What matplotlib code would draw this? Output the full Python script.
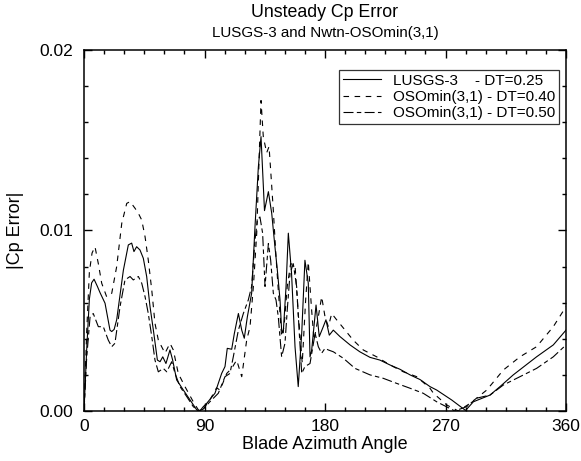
import matplotlib
matplotlib.use("Agg")
import matplotlib.pyplot as plt
import matplotlib.transforms as mtransforms
from matplotlib.ticker import MultipleLocator

plt.rcParams['font.family'] = ['Liberation Sans', 'DejaVu Sans']

# LUSGS-3, DT=0.25 (solid), error in units of 1e-3
ang_lu = [0, 2, 4, 5.7, 7.5, 10, 12, 15.7, 19.4, 20.7, 22.5, 24.4, 29.4, 33.1, 35.6, 37.3,
          39.3, 41.8, 44.3, 46.8, 49.3, 51.8, 54.8, 56.8, 58.8, 61.2, 64.2, 66.2, 69.2,
          74.2, 79.2, 84.2, 86.5, 89.1, 91.6, 97.8, 102.8, 105.3, 107, 110.3, 112.3,
          115.3, 117.8, 119.7, 122, 125.2, 127.7, 130.2, 132.2, 134.8, 137.7, 140.2,
          142.6, 144.4, 146.4, 147.6, 148.8, 150.9, 152.6, 155, 157.6, 160, 162.6, 165,
          167.5, 168.8, 170, 173.3, 175.7, 178.7, 180.7, 183.2, 186.2, 191.2, 198.7, 206,
          213.6, 221, 228.5, 236, 243.5, 251, 258.4, 263.4, 274.6, 285, 290.8, 303.2,
          310.7, 320.6, 338, 350.5, 360]
err_lu = [0, 3.4, 6.2, 7.1, 7.3, 6.9, 6.55, 5.97, 4.48, 4.4, 4.52, 5.05, 7.8, 9.2, 9.3,
          8.83, 9.1, 8.92, 8.46, 7.45, 5.78, 4.48, 2.82, 2.73, 3.0, 2.63, 3.38, 2.82, 1.72,
          1.16, 0.61, 0.06, 0.0, 0.24, 0.42, 0.98, 2.08, 2.46, 3.47, 3.42, 4.3, 5.4, 4.48,
          4.03, 5.22, 6.52, 10.2, 13.5, 15.2, 11.1, 12.15, 10.95, 9.1, 7.8, 6.15,
          4.48, 4.33, 6.9, 9.85, 7.63, 3.56, 1.35, 4.3, 8.35, 7.08, 3.0, 3.34, 5.87, 4.12,
          4.67, 5.05, 4.2, 4.48, 4.12, 3.66, 3.28, 2.97, 2.82, 2.55, 2.31, 2.0, 1.74,
          1.35, 1.16, 0.61, 0.03, 0.51, 0.88, 1.35, 2.0, 3.0, 3.66, 4.48]

# OSOmin(3,1), DT=0.40 (dashed)
ang_o40 = [0, 2, 4, 6, 8.2, 10.7, 13.2, 16.9, 20.7, 24.4, 28.2, 31.9, 34.4, 38.1, 40.6,
           43.1, 45.6, 48, 50.6, 53, 55.5, 58, 60.5, 64.2, 66.7, 70.4, 75.4, 81.6, 85.4,
           88, 94, 99, 101.6, 106.6, 110.3, 114, 117.8, 121.5, 124, 126.5, 129, 131, 132.2,
           133.9, 136.4, 138.2, 139.4, 141.4, 143.4, 145.1, 147.6, 149.4, 151.8, 154.3,
           157.6, 160, 163, 165.5, 167.5, 170, 171.8, 175, 177.5, 180, 182.5, 185, 188.7,
           195, 201, 208.6, 218.6, 228.5, 238.5, 248.5, 258.4, 261, 271, 279.5, 288.3,
           300.8, 313.2, 325.6, 338, 350.5, 360]
err_o40 = [0, 4.4, 7.7, 8.75, 9.1, 8.16, 7.08, 6.33, 6.52, 8.0, 10.4, 11.5, 11.6, 11.23,
           10.95, 10.58, 9.65, 8.36, 6.7, 4.86, 3.93, 3.56, 3.2, 3.75, 3.38, 2.08, 1.35,
           0.51, 0.06, 0.0, 0.61, 1.28, 1.16, 2.08, 2.36, 2.82, 1.9, 3.93, 4.67, 6.9, 9.85,
           14.5, 17.2, 15.2, 14.3, 14.65, 13.35, 11.1, 8.55, 6.7, 4.12, 4.67, 6.9, 8.16,
           8.08, 5.4, 2.65, 6.1, 8.26, 5.6, 3.93, 5.22, 6.33, 5.22, 4.67, 5.4, 5.05, 4.48,
           3.93, 3.38, 3.0, 2.55, 2.17, 1.9, 1.26, 0.98, 0.33, 0.0, 0.42, 1.16, 2.27, 3.0,
           3.56, 4.67, 5.78]

# OSOmin(3,1), DT=0.50 (dash-dot)
ang_o50 = [0, 2, 4.5, 6.9, 10.7, 14.4, 18.1, 20.7, 23.1, 26.9, 30.6, 34.4, 36.8, 40.6,
           43.1, 45.6, 48, 50.6, 53, 55.5, 59.2, 61.8, 65.5, 68, 71.7, 76.7, 81.6, 85.5,
           89, 94, 100.3, 105.3, 109, 111.5, 115.3, 119, 122.7, 125.2, 127.7, 129.5, 131.4,
           133.4, 135.2, 137.7, 139.4, 141.4, 143.4, 145.1, 147.6, 150.1, 151.8, 153.9,
           156.3, 158.8, 160.8, 162.6, 165, 168.8, 172.6, 175, 177.5, 180, 182.5, 186.2,
           193.7, 202.4, 213.6, 223.5, 233.5, 243.5, 253.4, 263.4, 277, 285.8, 293.3,
           303.2, 313.2, 325.6, 338, 350.5, 360]
err_o50 = [0, 2.95, 5.2, 5.4, 4.67, 4.67, 3.93, 3.56, 3.75, 5.78, 7.26, 7.45, 7.26, 7.45,
           7.08, 6.33, 5.4, 4.12, 2.82, 2.17, 2.36, 2.17, 2.73, 2.08, 1.35, 0.8, 0.24, 0.0,
           0.1, 0.51, 0.98, 1.9, 2.08, 3.0, 4.48, 5.4, 6.15, 6.9, 9.47, 10.58, 10.75, 9.85,
           6.9, 9.28, 8.36, 6.52, 6.15, 5.22, 3.0, 3.75, 5.6, 7.63, 8.16, 6.9, 4.3, 2.08,
           2.46, 2.63, 4.3, 3.56, 3.2, 3.47, 3.38, 3.28, 2.92, 2.36, 2.0, 1.81, 1.53, 1.26,
           0.98, 0.51, 0.0, 0.24, 0.71, 0.88, 1.44, 1.9, 2.36, 3.0, 3.66]

labels = ['LUSGS-3    - DT=0.25', 'OSOmin(3,1) - DT=0.40', 'OSOmin(3,1) - DT=0.50']

fig = plt.figure(figsize=(5.81, 4.61), dpi=100)
ax = fig.add_axes([0.1446, 0.1085, 0.8296, 0.7831])

lw = 0.8
ax.plot(ang_lu, [v * 1e-3 for v in err_lu], color='black', linewidth=lw,
        linestyle='-', label=labels[0])
ax.plot(ang_o40, [v * 1e-3 for v in err_o40], color='black', linewidth=lw,
        linestyle=(0, (5, 5)), label=labels[1])
ax.plot(ang_o50, [v * 1e-3 for v in err_o50], color='black', linewidth=lw,
        linestyle=(0, (9, 3, 4, 3)), label=labels[2])

ax.set_xlim(0, 360)
ax.set_ylim(0, 0.02)
ax.xaxis.set_major_locator(MultipleLocator(90))
ax.xaxis.set_minor_locator(MultipleLocator(15))
ax.yaxis.set_major_locator(MultipleLocator(0.01))
ax.yaxis.set_minor_locator(MultipleLocator(0.002))
ax.yaxis.set_major_formatter(plt.FormatStrFormatter('%.2f'))
ax.tick_params(which='both', direction='in', top=True, right=True, labelsize=12.5, width=1)
ax.tick_params(which='major', length=6)
ax.tick_params(which='minor', length=3)
ax.tick_params(axis='x', which='major', pad=6)
ax.tick_params(axis='y', which='major', pad=8)
for s in ax.spines.values():
    s.set_linewidth(1.1)

ax.set_xlabel('Blade Azimuth Angle', fontsize=13, labelpad=1.5)
ax.set_ylabel('|Cp Error|', fontsize=13, labelpad=11)

# titles centred over the plot area
tr = mtransforms.blended_transform_factory(ax.transAxes, fig.transFigure)
ax.text(0.5, 0.9625, 'Unsteady Cp Error', transform=tr,
        ha='center', va='baseline', fontsize=12.8)
ax.text(0.5, 0.919, 'LUSGS-3 and Nwtn-OSOmin(3,1)', transform=tr,
        ha='center', va='baseline', fontsize=10.9)

leg = ax.legend(loc='upper right', bbox_to_anchor=(0.986, 0.945), fontsize=11,
                frameon=True, fancybox=False, edgecolor='black', handlelength=2.5,
                borderpad=0.25, labelspacing=0.15, handletextpad=0.8, borderaxespad=0)
leg.get_frame().set_linewidth(0.9)

fig.savefig('out.png', dpi=100)
